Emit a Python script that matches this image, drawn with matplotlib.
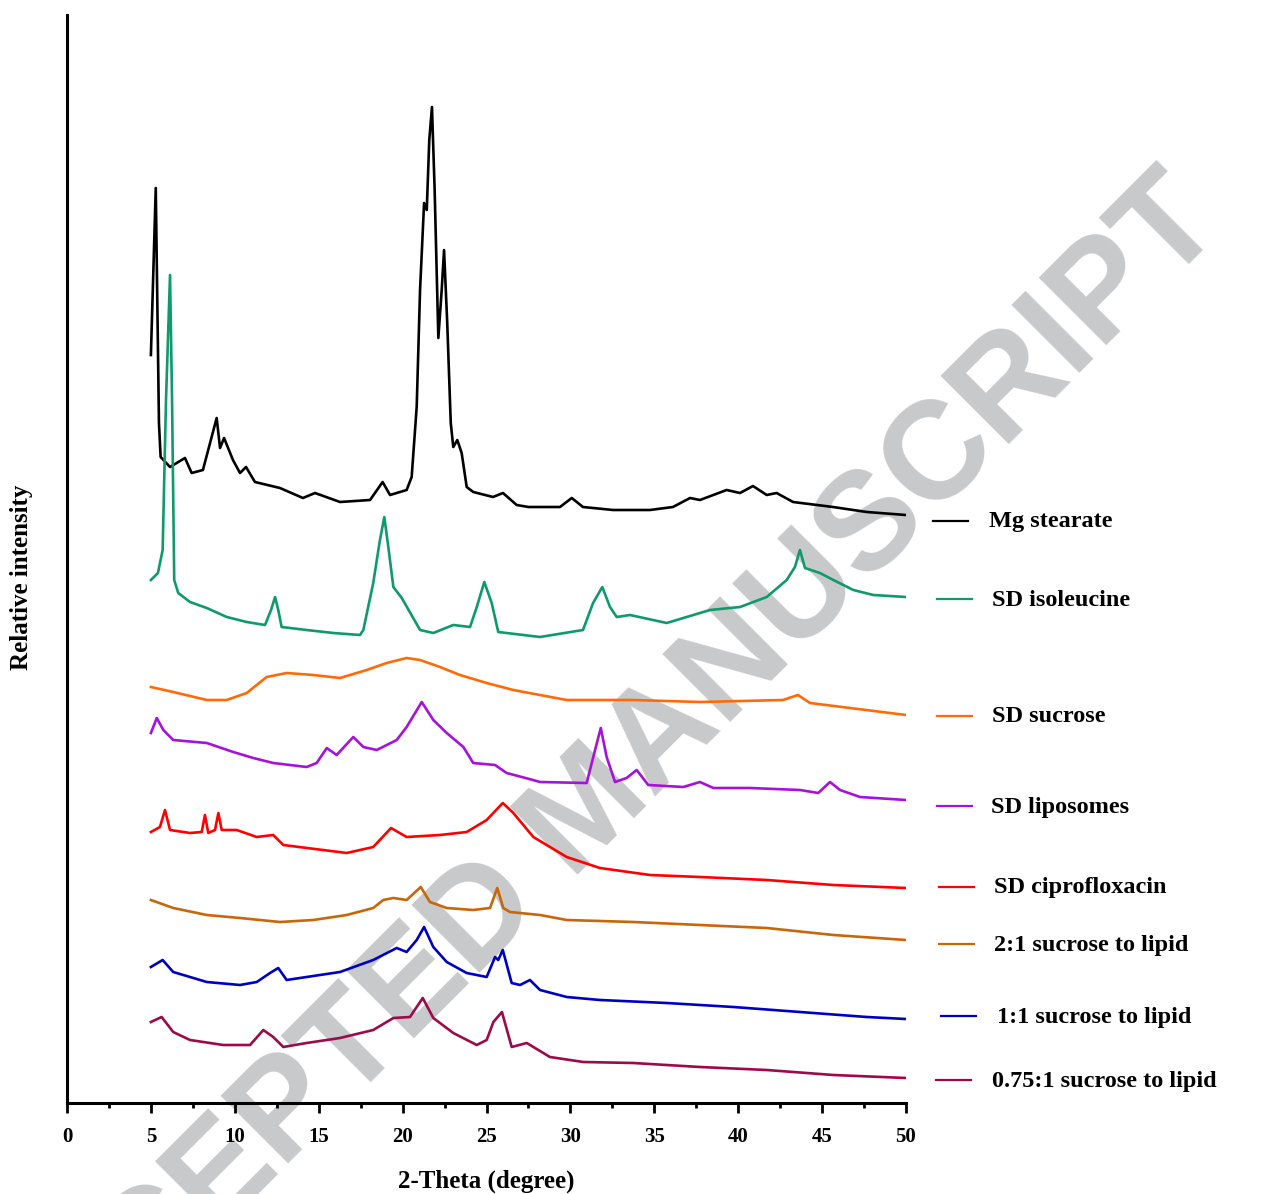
import matplotlib
matplotlib.use("Agg")
import matplotlib.pyplot as plt
from matplotlib.lines import Line2D
from matplotlib.ticker import MultipleLocator

# ---------------- data (2-theta in degrees, stacked relative intensity, a.u.) ----------------
mg_x = [5.0, 5.29, 5.48, 5.58, 6.14, 7.03, 7.43, 8.10, 8.62, 8.92, 9.12, 9.36, 9.89, 10.31, 10.67,
        11.20, 12.69, 14.06, 14.78, 16.27, 18.06, 18.81, 19.25, 20.24, 20.54, 20.84, 21.04, 21.28,
        21.44, 21.59, 21.75, 21.91, 22.13, 22.33, 22.47, 22.66, 22.87, 23.02, 23.26, 23.52, 23.82,
        24.21, 25.39, 25.98, 26.80, 27.5, 29.38, 30.08, 30.75, 32.54, 34.74, 36.11, 37.13, 37.72,
        39.31, 40.11, 40.88, 41.70, 42.29, 43.27, 45.65, 47.66, 50.0]
mg_y = [748, 915, 680, 646, 636, 645, 630, 633, 666, 685, 655, 665, 643, 630, 636,
        621, 615, 605, 610, 601, 603, 621, 608, 613, 626, 696, 813, 900,
        893, 963, 996, 913, 765, 813, 853, 780, 680, 656, 663, 650, 616,
        611, 606, 610, 598, 596, 596, 605, 596, 593, 593, 596, 605, 603,
        613, 610, 617, 608, 610, 601, 596, 591, 588]

ile_x = [5.0, 5.42, 5.70, 5.90, 6.14, 6.26, 6.39, 6.63, 7.33, 8.33, 9.52, 10.71, 11.80, 12.16, 12.40,
         12.59, 12.79, 14.28, 15.87, 17.46, 17.66, 18.25, 18.65, 18.91, 19.15, 19.45, 19.95, 21.04,
         21.83, 23.02, 24.02, 24.42, 24.87, 25.31, 25.70, 28.19, 30.75, 31.35, 31.90, 32.36, 32.76,
         33.55, 35.74, 36.93, 38.32, 40.11, 41.70, 42.89, 43.38, 43.68, 43.98, 44.87, 45.67, 46.86,
         48.05, 50.0]
ile_y = [523, 530, 553, 703, 828, 703, 523, 510, 501, 495, 486, 481, 478, 493, 506,
         493, 476, 473, 470, 468, 473, 520, 563, 586, 556, 516, 505, 473,
         470, 478, 476, 496, 521, 500, 471, 466, 473, 500, 516, 496, 486,
         488, 480, 486, 493, 496, 506, 523, 536, 553, 535, 530, 523, 513,
         508, 506]

suc_x = [5.0, 6.33, 8.33, 9.52, 10.71, 11.90, 13.09, 14.68, 16.27, 17.86, 19.05, 20.24, 21.04,
         22.23, 23.42, 25.01, 26.60, 28.19, 29.78, 33.73, 37.72, 42.67, 43.56, 44.28, 46.66, 50.0]
suc_y = [416, 411, 403, 403, 410, 426, 430, 428, 425, 433, 440, 445, 443,
         436, 428, 420, 413, 408, 403, 403, 401, 403, 408, 400, 395, 388]

lip_x = [5.0, 5.35, 5.74, 6.33, 8.33, 9.91, 11.10, 12.29, 14.28, 14.88, 15.48, 16.07, 17.06, 17.66,
         18.46, 19.65, 20.24, 21.14, 21.83, 22.63, 23.62, 24.21, 25.51, 26.20, 27.77, 28.19, 30.97,
         31.47, 31.81, 32.16, 32.66, 33.35, 33.95, 34.64, 36.73, 37.72, 38.52, 40.70, 43.68, 44.77,
         45.47, 46.07, 47.26, 50.0]
lip_y = [370, 385, 373, 363, 360, 351, 345, 340, 336, 340, 355, 348, 366, 356,
         353, 363, 376, 401, 383, 370, 356, 340, 338, 330, 323, 321, 320,
         353, 375, 346, 321, 325, 333, 318, 316, 321, 315, 315, 313, 310,
         321, 313, 306, 303]

cip_x = [5.0, 5.54, 5.84, 6.14, 7.33, 8.03, 8.22, 8.42, 8.82, 9.02, 9.22, 10.11, 11.31, 12.29,
         12.89, 16.67, 18.25, 19.31, 20.24, 22.23, 23.82, 25.01, 25.97, 26.60, 27.79, 29.78, 31.76,
         34.74, 37.72, 41.70, 45.67, 50.0]
cip_y = [271, 276, 293, 273, 270, 271, 288, 270, 273, 290, 273, 273, 266, 268,
         258, 250, 256, 275, 266, 268, 271, 283, 300, 290, 266, 246, 235,
         228, 226, 223, 218, 215]

r21_x = [5.0, 6.33, 8.33, 10.31, 12.69, 14.68, 16.67, 18.25, 18.85, 19.45, 20.24, 21.08, 21.63,
         22.63, 24.21, 25.21, 25.64, 26.00, 26.40, 28.19, 29.78, 33.75, 37.72, 41.70, 45.67, 50.0]
r21_y = [203, 195, 188, 185, 181, 183, 188, 195, 203, 205, 203, 216, 201,
         195, 193, 195, 215, 195, 191, 188, 183, 181, 178, 175, 168, 163]

r11_x = [5.0, 5.70, 6.33, 8.33, 10.31, 11.31, 12.10, 12.59, 13.09, 14.28, 16.27, 18.25, 19.65,
         20.24, 20.84, 21.28, 21.83, 22.63, 23.82, 25.01, 25.51, 25.70, 25.97, 26.50, 27.00, 27.59,
         28.19, 29.78, 31.76, 35.74, 39.71, 43.68, 47.66, 50.0]
r11_y = [136, 143, 131, 121, 118, 121, 130, 135, 123, 126, 131, 143, 155,
         151, 163, 176, 156, 141, 130, 126, 146, 143, 153, 120, 118, 123,
         113, 106, 103, 100, 96, 91, 86, 84]

r075_x = [5.0, 5.64, 6.33, 7.33, 9.31, 10.91, 11.70, 12.29, 12.89, 14.28, 16.27, 18.25, 19.45,
          20.44, 21.20, 21.83, 23.02, 24.42, 25.01, 25.41, 25.92, 26.50, 27.40, 28.78, 30.77, 33.75,
          37.72, 41.70, 45.67, 50.0]
r075_y = [81, 86, 71, 63, 58, 58, 73, 66, 56, 60, 65, 73, 85,
          86, 105, 85, 70, 58, 63, 81, 91, 56, 60, 46, 41, 40,
          36, 33, 28, 25]

series_labels = ["Mg stearate", "SD isoleucine", "SD sucrose", "SD liposomes",
                 "SD ciprofloxacin", "2:1 sucrose to lipid", "1:1 sucrose to lipid",
                 "0.75:1 sucrose to lipid"]
series_x = [mg_x, ile_x, suc_x, lip_x, cip_x, r21_x, r11_x, r075_x]
series_y = [mg_y, ile_y, suc_y, lip_y, cip_y, r21_y, r11_y, r075_y]
colors = ["#000000", "#0f9a6a", "#ff6a08", "#a810dc", "#ff0000", "#c8660a", "#0000c0", "#9c0a4a"]
xticks = [0, 5, 10, 15, 20, 25, 30, 35, 40, 45, 50]

# ---------------- figure ----------------
W, H, DPI = 1288, 1194, 100
fig = plt.figure(figsize=(W / DPI, H / DPI), dpi=DPI)
serif = ["Liberation Serif", "DejaVu Serif"]

def fx(px):
    return px / W

def fy(py):
    return 1 - py / H

# watermark (behind everything)
fig.text(fx(590), fy(812), "ACCEPTED MANUSCRIPT", rotation=45, rotation_mode="anchor",
         ha="center", va="center", fontsize=100, fontweight="bold", color="#c8c9cb",
         family=["Liberation Sans", "DejaVu Sans"], zorder=-5)

ax = fig.add_axes([fx(67), fy(1103), fx(906) - fx(67), fy(15) - fy(1103)])
ax.patch.set_visible(False)

for xs, ys, c in zip(series_x, series_y, colors):
    ax.plot(xs, ys, color=c, lw=1.9, solid_joinstyle="round")

ax.set_xlim(0, 50)
ax.set_ylim(0, 1088)
ax.set_xticks(xticks)
ax.set_xticklabels([str(t) for t in xticks], family=serif, fontweight="bold", fontsize=15)
ax.xaxis.set_minor_locator(MultipleLocator(2.5))
ax.set_yticks([])
ax.tick_params(axis="x", which="major", direction="out", length=7.5, width=2.0, pad=10)
ax.tick_params(axis="x", which="minor", direction="out", length=3.8, width=2.0)
for s in ["top", "right"]:
    ax.spines[s].set_visible(False)
for s in ["left", "bottom"]:
    ax.spines[s].set_linewidth(2.2)

fig.text(fx(486), fy(1181), "2-Theta (degree)", ha="center", va="center",
         family=serif, fontweight="bold", fontsize=18)
fig.text(fx(22), fy(577), "Relative intensity", ha="center", va="center", rotation=90,
         family=serif, fontweight="bold", fontsize=18)

# labels with short line segments at the right
lab_y = [521, 599, 716, 806, 887, 944, 1016, 1080]
seg_x0 = [933, 937, 937, 937, 939, 939, 941, 936]
txt_x = [989, 992, 992, 991, 994, 994, 997, 992]
for lbl, c, py, sx, tx in zip(series_labels, colors, lab_y, seg_x0, txt_x):
    fig.add_artist(Line2D([fx(sx), fx(sx + 35)], [fy(py), fy(py)], transform=fig.transFigure,
                          color=c, lw=1.6))
    fig.text(fx(tx), fy(py + 1), lbl, ha="left", va="center", family=serif,
             fontweight="bold", fontsize=17.5)

fig.savefig("out.png", dpi=DPI)
